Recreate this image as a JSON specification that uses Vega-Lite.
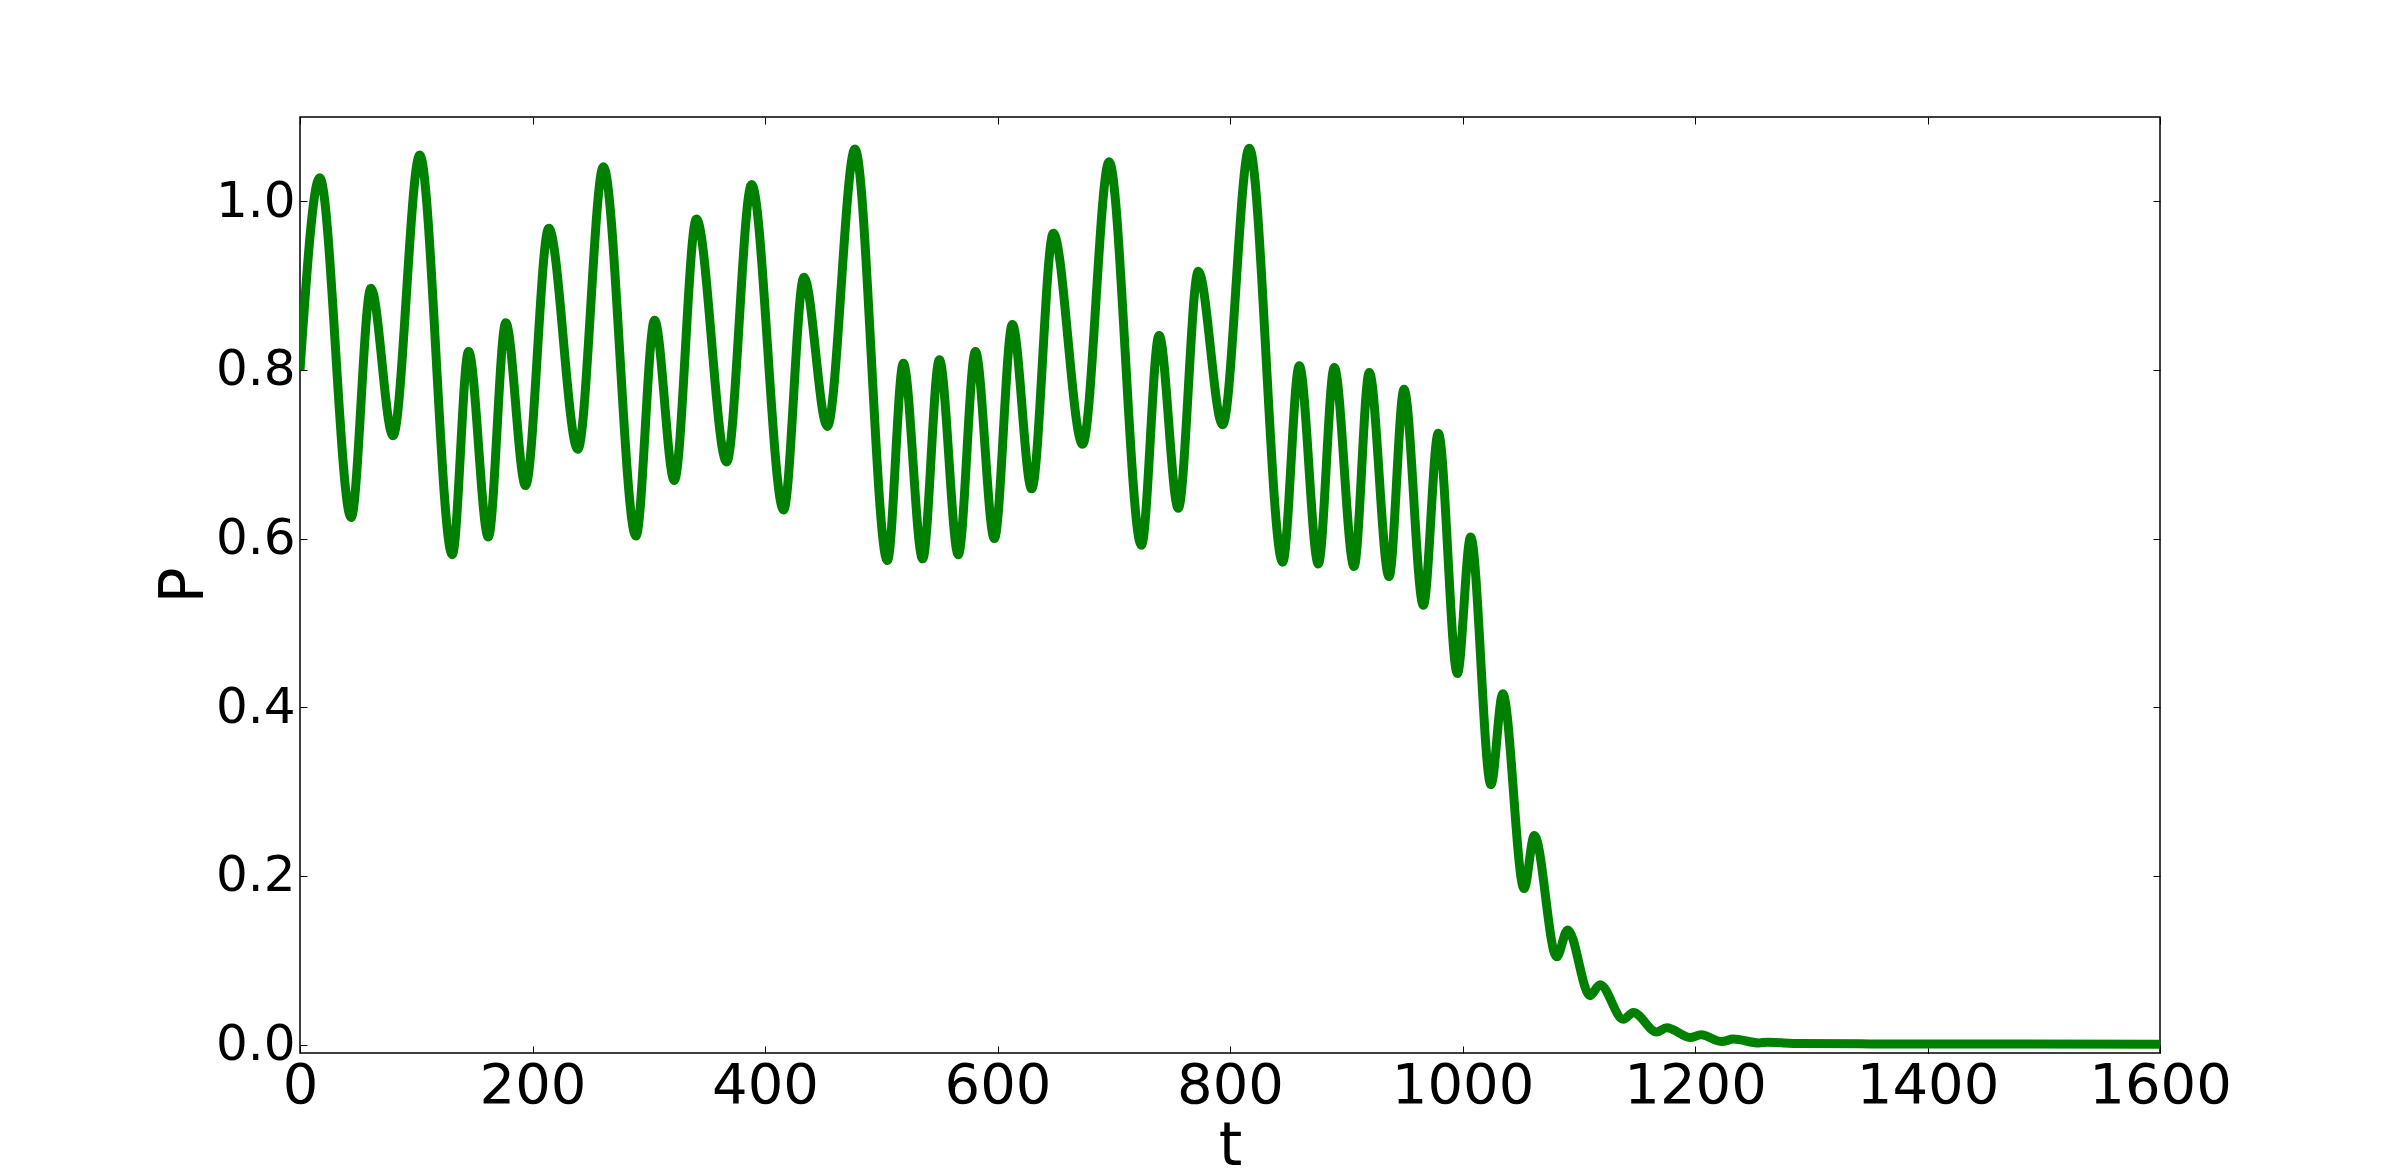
{
  "$schema": "https://vega.github.io/schema/vega-lite/v6.json",
  "width": 1860,
  "height": 936,
  "autosize": "none",
  "padding": {"left": 300, "top": 117, "right": 240, "bottom": 117},
  "background": "white",
  "config": {"view": {"stroke": "black", "strokeWidth": 1.5}},
  "data": {"values": [
    {"t": 0, "P": 0.800}, {"t": 17, "P": 1.028}, {"t": 44, "P": 0.625}, {"t": 61, "P": 0.897},
    {"t": 80, "P": 0.722}, {"t": 103, "P": 1.055}, {"t": 131, "P": 0.581}, {"t": 145, "P": 0.822},
    {"t": 162, "P": 0.602}, {"t": 177, "P": 0.856}, {"t": 194, "P": 0.663}, {"t": 214, "P": 0.968},
    {"t": 239, "P": 0.706}, {"t": 261, "P": 1.041}, {"t": 289, "P": 0.603}, {"t": 305, "P": 0.859},
    {"t": 322, "P": 0.669}, {"t": 341, "P": 0.979}, {"t": 367, "P": 0.691}, {"t": 388.5, "P": 1.020},
    {"t": 416, "P": 0.634}, {"t": 433.5, "P": 0.910}, {"t": 453.6, "P": 0.733}, {"t": 477.4, "P": 1.062},
    {"t": 505.3, "P": 0.574}, {"t": 519, "P": 0.808}, {"t": 535.6, "P": 0.576}, {"t": 550, "P": 0.812},
    {"t": 566.3, "P": 0.581}, {"t": 581, "P": 0.822}, {"t": 597.3, "P": 0.600}, {"t": 612.8, "P": 0.854},
    {"t": 629.4, "P": 0.659}, {"t": 648, "P": 0.962}, {"t": 673.2, "P": 0.712}, {"t": 696, "P": 1.047},
    {"t": 723.8, "P": 0.592}, {"t": 739, "P": 0.841}, {"t": 755.5, "P": 0.636}, {"t": 772.7, "P": 0.917},
    {"t": 793.7, "P": 0.735}, {"t": 816.6, "P": 1.063}, {"t": 845.3, "P": 0.572}, {"t": 859.6, "P": 0.805},
    {"t": 876, "P": 0.570}, {"t": 889.7, "P": 0.803}, {"t": 906.7, "P": 0.567}, {"t": 919.8, "P": 0.797},
    {"t": 936.8, "P": 0.555}, {"t": 949.7, "P": 0.777}, {"t": 966.3, "P": 0.521}, {"t": 979.2, "P": 0.725},
    {"t": 995.6, "P": 0.440}, {"t": 1007, "P": 0.602}, {"t": 1024.5, "P": 0.308}, {"t": 1034.6, "P": 0.416},
    {"t": 1053, "P": 0.185}, {"t": 1061.8, "P": 0.248}, {"t": 1081, "P": 0.104}, {"t": 1090.5, "P": 0.136},
    {"t": 1109.7, "P": 0.058}, {"t": 1118.3, "P": 0.071}, {"t": 1138.4, "P": 0.030}, {"t": 1146.9, "P": 0.038},
    {"t": 1167, "P": 0.015}, {"t": 1175.7, "P": 0.020}, {"t": 1195.7, "P": 0.0085}, {"t": 1205.2, "P": 0.0115},
    {"t": 1223, "P": 0.0035}, {"t": 1233, "P": 0.0065}, {"t": 1255, "P": 0.002}, {"t": 1262, "P": 0.0028},
    {"t": 1290, "P": 0.0012}, {"t": 1350, "P": 0.0008}, {"t": 1450, "P": 0.0006}, {"t": 1600, "P": 0.0005}
  ]},
  "layer": [
    {
      "mark": {"type": "line", "color": "#008000", "strokeWidth": 9, "interpolate": "monotone", "clip": true},
      "encoding": {
        "x": {"field": "t", "type": "quantitative",
          "scale": {"domain": [0, 1600], "nice": false, "zero": false},
          "axis": {"orient": "bottom", "values": [0, 200, 400, 600, 800, 1000, 1200, 1400, 1600], "format": "d",
            "labelFont": "DejaVu Sans", "labelFontSize": 56, "labelColor": "black", "labelFlush": false, "labelOverlap": false,
            "tickColor": "black", "tickSize": -7, "tickWidth": 1, "labelPadding": 12, "domain": false, "grid": false,
            "title": "t", "titleFont": "DejaVu Sans", "titleFontSize": 60, "titleFontWeight": "normal", "titleColor": "black",
            "titleY": 111, "titleBaseline": "alphabetic"}},
        "y": {"field": "P", "type": "quantitative",
          "scale": {"domain": [-0.01, 1.1], "nice": false, "zero": false},
          "axis": {"orient": "left", "values": [0, 0.2, 0.4, 0.6, 0.8, 1.0], "format": ".1f",
            "labelFont": "DejaVu Sans", "labelFontSize": 50, "labelColor": "black", "labelFlush": false, "labelOverlap": false,
            "tickColor": "black", "tickSize": -7, "tickWidth": 1, "labelPadding": 12, "domain": false, "grid": false,
            "title": "P", "titleFont": "DejaVu Sans", "titleFontSize": 60, "titleFontWeight": "normal", "titleColor": "black",
            "titleX": -98, "titleBaseline": "alphabetic"}}
      }
    },
    {
      "mark": {"type": "line", "opacity": 0},
      "encoding": {
        "x": {"field": "t", "type": "quantitative",
          "scale": {"domain": [0, 1600], "nice": false, "zero": false},
          "axis": {"orient": "top", "values": [0, 200, 400, 600, 800, 1000, 1200, 1400, 1600], "labels": false,
            "tickColor": "black", "tickSize": -7, "tickWidth": 1, "domain": false, "grid": false, "title": null}},
        "y": {"field": "P", "type": "quantitative",
          "scale": {"domain": [-0.01, 1.1], "nice": false, "zero": false},
          "axis": {"orient": "right", "values": [0, 0.2, 0.4, 0.6, 0.8, 1.0], "labels": false,
            "tickColor": "black", "tickSize": -7, "tickWidth": 1, "domain": false, "grid": false, "title": null}}
      }
    }
  ],
  "resolve": {"scale": {"x": "independent", "y": "independent"}, "axis": {"x": "independent", "y": "independent"}}
}
